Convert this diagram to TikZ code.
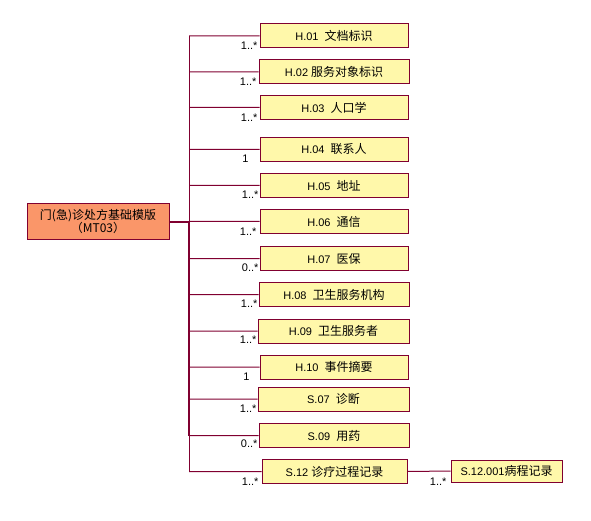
\documentclass[tikz,border=0pt]{standalone}
\usepackage{fontspec}
\setmainfont{Liberation Sans}
\newfontfamily\cjk[Scale=1.09]{Noto Sans CJK SC}
\usepackage{xcolor}
\definecolor{linered}{RGB}{128,0,48}
\definecolor{boxyellow}{RGB}{255,248,170}
\definecolor{mainorange}{RGB}{250,150,105}

\begin{document}
\begin{tikzpicture}[x=1pt,y=-1pt,font=\fontsize{11}{13}\selectfont,line width=1pt,
    part/.style={draw=linered,fill=boxyellow,minimum width=148pt,minimum height=24pt,inner sep=0pt},
    mult/.style={anchor=east,inner sep=0pt}]
            \useasboundingbox (0,0) rectangle (591,521);

            \node (mt) at (98,222) [draw=linered,fill=mainorange,minimum width=142pt,minimum height=36pt,inner sep=0pt,align=center] {\cjk 门(急)诊处方基础模版\\\cjk （MT03）};
            \coordinate (spine) at (189,222);

            \node (h01) at (334,36) [part] {H.01\ \ \cjk 文档标识};
            \node (h02) at (334,72) [part,minimum width=150pt] {H.02 \cjk 服务对象标识};
            \node (h03) at (334,107.5) [part] {H.03\ \ \cjk 人口学};
            \node (h04) at (334,149.5) [part] {H.04\ \ \cjk 联系人};
            \node (h05) at (334,185.5) [part] {H.05\ \ \cjk 地址};
            \node (h06) at (334,221.5) [part] {H.06\ \ \cjk 通信};
            \node (h07) at (334,258.5) [part] {H.07\ \ \cjk 医保};
            \node (h08) at (334,294.5) [part,minimum width=150pt] {H.08\ \ \cjk 卫生服务机构};
            \node (h09) at (333.5,331) [part,minimum width=151pt] {H.09\ \ \cjk 卫生服务者};
            \node (h10) at (334,367) [part] {H.10\ \ \cjk 事件摘要};
            \node (s07) at (333.5,399) [part,minimum width=151pt] {S.07\ \ \cjk 诊断};
            \node (s09) at (334,435.5) [part,minimum width=150pt] {S.09\ \ \cjk 用药};
            \node (s12) at (334.5,471.5) [part,minimum width=145pt] {S.12 \cjk 诊疗过程记录};
            \node (s12a) at (506.5,471) [part,minimum width=111pt,minimum height=22pt] {S.12.001\cjk 病程记录};

            \draw[linered,line width=2.5pt] (mt.east) -- (spine) (spine) -- (spine |- s09.west);
            \draw[linered] (spine |- h01.west) -- (spine |- s12.west);

            \draw[linered] (h01.west) -- (h01.west -| spine) (h02.west) -- (h02.west -| spine)
                (h03.west) -- (h03.west -| spine) (h04.west) -- (h04.west -| spine)
                (h05.west) -- (h05.west -| spine) (h06.west) -- (h06.west -| spine)
                (h07.west) -- (h07.west -| spine) (h08.west) -- (h08.west -| spine)
                (h09.west) -- (h09.west -| spine) (h10.west) -- (h10.west -| spine)
                (s07.west) -- (s07.west -| spine) (s09.west) -- (s09.west -| spine)
                (s12.west) -- (s12.west -| spine) (s12.east) -- (s12a.west);

            \node (m01) at (258,46) [mult] {1..*};
            \node (m02) at (257,82) [mult] {1..*};
            \node (m03) at (258,118) [mult] {1..*};
            \node (m04) at (249,159) [mult] {1};
            \node (m05) at (259,195) [mult] {1..*};
            \node (m06) at (257,232) [mult] {1..*};
            \node (m07) at (259,268) [mult] {0..*};
            \node (m08) at (258,304) [mult] {1..*};
            \node (m09) at (257,340) [mult] {1..*};
            \node (m10) at (250,377) [mult] {1};
            \node (m11) at (257,409) [mult] {1..*};
            \node (m12) at (258,444) [mult] {0..*};
            \node (m13) at (259,482) [mult] {1..*};
            \node (m14) at (447,482) [mult] {1..*};

        \end{tikzpicture}
\end{document}
